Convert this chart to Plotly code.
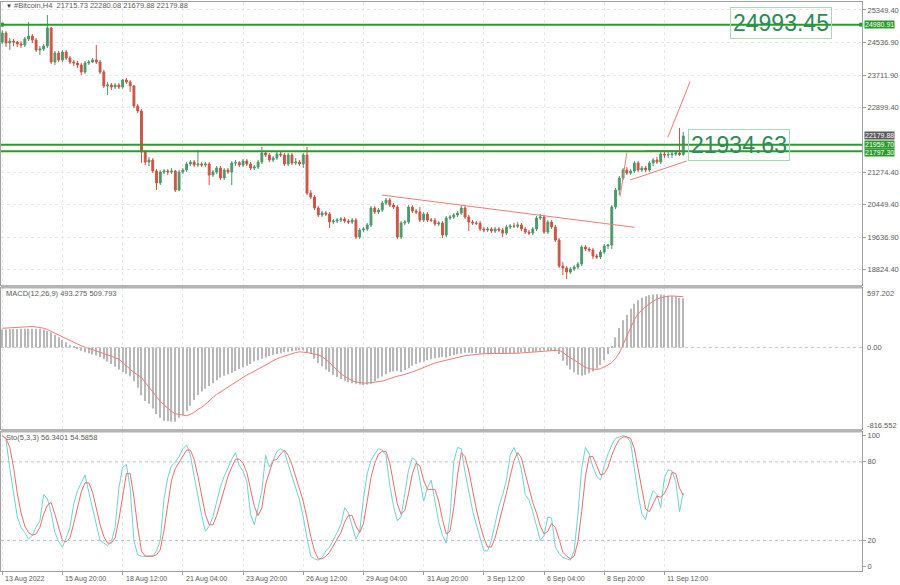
import plotly.graph_objects as go

# ---------------- data ----------------
closes = [24770,24519,24569,24544,24494,24469,24619,24695,24594,24343,24368,24443,24896,24041,24267,24092,24293,24142,24041,24016,
          23966,23790,24016,24041,24092,24041,23790,23438,23463,23412,23463,23412,23588,23538,23438,22935,22809,21778,21526,21576,
          21300,20998,21274,21300,21274,21300,20822,21274,21325,21476,21526,21451,21476,21451,21476,21199,21274,21375,21124,21325,
          21274,21501,21510,21451,21551,21476,21375,21400,21526,21752,21702,21576,21627,21727,21702,21476,21702,21501,21526,21476,
          21702,20746,20646,20369,20193,20243,20218,20017,20042,20067,20092,20042,20017,20067,19640,19816,19841,19942,20369,20268,
          20319,20495,20570,20445,20394,19640,19992,20017,20394,20294,20268,20067,20218,20067,20060,19967,19992,19690,20118,20143,
          20193,20243,20369,20143,20017,19992,19985,19841,19816,19841,19790,19841,19816,19740,19891,19916,19910,19942,19841,19765,
          19740,19841,20118,20143,19765,20017,19891,19564,18910,18860,18759,18835,18885,18961,19388,19338,19313,19162,19137,19262,
          19413,19438,20394,20822,21124,21325,21249,21300,21501,21325,21375,21325,21501,21576,21526,21727,21702,21710,21727,21752,
          21715.73,22179.88]
highs = [24846,24820,24644,24619,24569,24569,24670,25047,24745,24644,24443,24494,25223,24921,24318,24318,24343,24343,24192,24092,
         24066,24016,24066,24092,24142,24469,24092,23840,23538,23513,23513,23513,23614,23639,23588,23463,22985,22859,21828,21652,
         21627,21350,21325,21350,21350,21375,21325,21325,21375,21526,21576,21576,21828,21526,21526,21526,21325,21426,21426,21375,
         21375,21551,21576,21551,21602,21602,21526,21451,21576,21904,21803,21752,21677,21778,21778,21752,21752,21752,21627,21576,
         21752,21904,20822,20696,20419,20294,20294,20268,20092,20118,20143,20143,20092,20118,20118,19866,19891,19992,20419,20419,
         20369,20545,20621,20621,20495,20445,20042,20067,20445,20445,20344,20394,20268,20268,20118,20118,20042,20042,20168,20193,
         20243,20294,20445,20419,20193,20067,20042,20042,19891,19891,19891,19891,19891,19866,19942,19967,19992,20017,19992,19891,
         19816,19891,20168,20218,20193,20067,20067,19942,19614,19011,18910,18885,18935,19011,19438,19438,19388,19363,19212,19313,
         19463,19463,20445,20872,21174,21375,21400,21350,21551,21551,21426,21426,21551,21627,21652,21778,21778,21778,21803,21828,
         22381,22280.08]
lows = [24494,24418,24343,24443,24418,24393,24418,24569,24519,24293,24217,24318,24393,23991,23966,24041,24041,24092,23991,23941,
        23890,23714,23739,23966,24016,23991,23739,23387,23211,23337,23362,23362,23362,23488,23287,22884,22758,21501,21451,21426,
        21249,20822,20948,21224,21199,21224,20771,20797,21224,21274,21426,21400,21400,21400,21400,20948,21149,21224,21073,21073,
        21224,20948,21426,21400,21400,21426,21325,21325,21350,21476,21652,21526,21526,21576,21652,21426,21426,21451,21451,21426,
        21375,20696,20595,20319,20143,20143,20168,19866,19967,19992,20017,19992,19967,19967,19589,19589,19765,19790,19891,20218,
        20218,20268,20445,20394,20344,19589,19589,19942,19967,20243,20218,20017,20017,20017,20017,19916,19916,19614,19640,20067,
        20092,20143,20193,20092,19790,19942,19942,19790,19765,19765,19740,19740,19765,19640,19690,19841,19866,19866,19790,19715,
        19690,19690,19790,20067,19715,19715,19841,19514,18860,18684,18583,18709,18785,18835,18910,19287,19262,19086,19086,19086,
        19212,19338,19338,20344,20696,21073,21199,21199,21249,21274,21274,21274,21274,21426,21476,21476,21627,21627,21627,21677,
        21677,21679.88]
first_open = 24544
opens = [first_open] + closes[:-1]
bars = list(range(len(closes)))

date_tick_bars = [0, 16, 32, 48, 64, 80, 96, 112, 128, 144, 160, 176]
date_tick_labels = ["13 Aug 2022", "15 Aug 20:00", "18 Aug 12:00", "21 Aug 04:00", "23 Aug 20:00", "26 Aug 12:00",
                    "29 Aug 04:00", "31 Aug 20:00", "3 Sep 12:00", "6 Sep 04:00", "8 Sep 20:00", "11 Sep 12:00"]
price_ticks = [25349.40, 24536.90, 23711.90, 22899.40, 21274.40, 20449.40, 19636.90, 18824.40]
level_prices = [24980.91, 21959.70, 21797.30]
target_labels = ["24993.45", "21934.63"]
target_prices = [25022, 21954]
target_bars = [207, 195.7]

# trend lines: (bar0, price0, bar1, price1)
trend_lines = [(100.9, 20696, 168.0, 19884),
               (164.2, 20654, 166.0, 21760),
               (176.9, 22147, 182.8, 23546),
               (166.9, 21073, 181.9, 21551),
               (170.8, 21810, 181.5, 21810)]

macd_range = [-816.552, 597.202]
macd_main = [180,182,184,186,187,188,188,188,188,188,188,
             179,167,150,127,103,77,52,28,8,
             -14,-33,-47,-56,-70,-80,-94,-118,-141,-165,-193,-221,-244,-263,-287,
             -338,-404,-479,-536,-564,-611,-667,-705,-733,-738,-743,-743,
             -705,-677,-639,-583,-526,-475,-442,-414,-385,-357,-329,-301,-282,-268,
             -254,-235,-216,-197,-183,-165,-141,-127,-113,-99,-85,-75,-66,-56,-47,-42,-38,-33,-28,-28,
             -47,-66,-113,-155,-188,-221,-244,-273,-296,-315,-334,-348,-357,-362,-371,-376,-371,-362,
             -338,-310,-291,-268,-249,-240,-235,-244,-226,-207,-183,-165,-150,-141,-127,-118,-108,-99,-94,
             -99,-85,-75,-68,-61,-52,-52,-56,-58,-61,-66,-68,-68,-66,-66,-64,-61,-58,-55,-52,-47,-45,-43,-42,-39,-33,-26,-33,-33,-38,
             -66,-132,-179,-221,-249,-273,-282,-273,-259,-240,-212,-174,-127,-66,
             9,103,197,273,330,390,440,475,500,515,525,532,535,533,528,520,515,510,500,493.275]
macd_signal = [193,196,199,202,205,207,209,211,211,206,200,194,180,162,143,124,104,85,66,47,
               29,17,5,-8,-20,-32,-42,-57,-72,-87,-103,-115,-150,-185,-220,-250,-275,-300,-350,-400,
               -445,-495,-540,-575,-610,-640,-664,-672,-680,-683,-670,-650,-620,-600,-570,-530,-500,-470,-445,-418,
               -393,-368,-343,-318,-293,-275,-258,-237,-215,-193,-172,-150,-130,-112,-99,-85,-72,-60,-50,-43,
               -43,-50,-58,-66,-74,-90,-120,-150,-190,-230,-262,-290,-315,-333,-345,-353,-356,-356,-353,-350,
               -345,-338,-325,-310,-298,-287,-280,-270,-258,-245,-230,-215,-198,-180,-165,-155,-145,-135,-125,-115,
               -105,-96,-88,-82,-77,-72,-68,-64,-62,-61,-61,-62,-63,-63,-63,-62,-60,-57,-54,-51,
               -48,-46,-44,-42,-38,-34,-30,-27,-26,-50,-80,-105,-125,-150,-175,-200,-212,-218,-220,-212,
               -195,-175,-150,-110,-55,30,120,212,280,340,380,410,440,465,485,500,510,515,517,516,
               513,509.793]
sto_main = [100,97,75,55,38,30,26,21,24,30,35,55,52,41,26,19,15,22,30,48,
            58,64,70,57,44,32,20,18,16,19,30,60,76,78,60,20,9,8,8,8,
            8,12,20,52,68,77,80,84,90,93,85,69,53,39,27,31,38,49,61,69,
            76,82,87,77,73,65,40,32,45,58,85,76,81,88,90,88,78,68,60,51,
            38,22,8,6,5,7,12,15,20,26,32,45,41,31,21,27,52,71,81,86,
            90,89,85,62,46,35,38,56,74,83,81,66,50,60,66,50,34,24,18,38,
            80,91,90,72,56,43,32,22,12,12,20,33,46,55,66,85,91,84,74,55,
            51,42,30,20,24,38,37,15,10,7,6,5,12,40,75,91,86,76,69,66,
            77,86,93,98,99,100,99,95,75,55,40,36,50,58,55,45,68,74,73,65,
            42,56.3401]
sto_signal = [100,98,91,76,56,41,31,26,24,25,30,40,47,49,40,29,20,19,22,33,
              45,57,64,64,57,44,32,23,18,18,22,36,55,71,71,53,30,12,8,8,
              8,9,13,28,47,66,75,80,85,89,89,82,69,54,40,32,32,39,49,60,
              69,76,82,82,79,72,59,46,39,45,63,73,81,82,86,89,85,78,69,60,
              50,37,23,12,6,6,8,11,16,20,26,34,39,39,31,26,33,50,68,79,
              86,88,88,79,64,48,40,43,56,71,79,77,66,59,59,59,50,36,25,27,
              45,70,87,84,73,57,44,32,22,15,15,22,33,45,56,69,81,87,83,71,
              60,49,41,31,25,27,33,30,21,11,8,6,8,19,42,69,84,84,77,70,
              71,76,85,92,97,99,99,98,90,75,57,44,42,48,54,53,56,62,72,71,
              60,54.5858]

# ---------------- figure ----------------
GREEN_UP = "#4a9a6a"
RED_DN = "#cd5444"
LEVEL_GREEN = "#2b9c2b"
TREND_RED = "#f27a78"
GRID = "#e8e8e8"
AXIS = "#a0a0a0"
TXT = "#5a5a5a"
FONT = "Liberation Sans"

fig = go.Figure()
fig.add_trace(go.Candlestick(x=bars, open=opens, high=highs, low=lows, close=closes,
                             increasing=dict(line=dict(color=GREEN_UP, width=1), fillcolor=GREEN_UP),
                             decreasing=dict(line=dict(color=RED_DN, width=1), fillcolor=RED_DN),
                             whiskerwidth=0, xaxis="x", yaxis="y", showlegend=False))
for (b0, p0, b1, p1) in trend_lines:
    fig.add_trace(go.Scatter(x=[b0, b1], y=[p0, p1], mode="lines", line=dict(color=TREND_RED, width=1),
                             xaxis="x", yaxis="y", showlegend=False, hoverinfo="skip"))
fig.add_trace(go.Scatter(x=[-0.1, 228.3], y=[level_prices[0]] * 2, mode="markers",
                         marker=dict(symbol="square", size=4, color=LEVEL_GREEN),
                         xaxis="x", yaxis="y", showlegend=False, hoverinfo="skip", cliponaxis=False))

fig.add_trace(go.Bar(x=bars, y=macd_main, marker=dict(color="#b8b8b8", line=dict(width=0)), width=0.32,
                     xaxis="x2", yaxis="y2", showlegend=False))
fig.add_trace(go.Scatter(x=bars, y=macd_signal, mode="lines", line=dict(color=TREND_RED, width=1),
                         xaxis="x2", yaxis="y2", showlegend=False))
fig.add_trace(go.Scatter(x=bars, y=sto_main, mode="lines", line=dict(color="#6fd3d0", width=1),
                         xaxis="x3", yaxis="y3", showlegend=False))
fig.add_trace(go.Scatter(x=bars, y=sto_signal, mode="lines", line=dict(color="#f26b6b", width=1),
                         xaxis="x3", yaxis="y3", showlegend=False))

xr = [-0.33, 228.5]
xcommon = dict(range=xr, tickvals=date_tick_bars, showgrid=True, gridcolor=GRID, griddash="dot",
               showline=True, mirror=True, linecolor=AXIS, zeroline=False, showticklabels=False, fixedrange=True)
fig.update_layout(
    width=900, height=585, margin=dict(l=1, r=38, t=2, b=14, autoexpand=False),
    paper_bgcolor="white", plot_bgcolor="white",
    font=dict(family=FONT, size=7.5, color=TXT),
    xaxis=dict(domain=[0, 1], anchor="y", rangeslider=dict(visible=False), **xcommon),
    xaxis2=dict(domain=[0, 1], anchor="y2", **xcommon),
    xaxis3=dict(domain=[0, 1], anchor="y3", ticks="outside", ticklen=3, tickcolor=AXIS, **xcommon),
    yaxis=dict(domain=[0.5026, 1.0], range=[18432.75, 25550.2], side="right", tickvals=price_ticks,
               ticktext=[f"{v:.2f}" for v in price_ticks], ticks="outside", ticklen=3, tickcolor=AXIS,
               showgrid=True, gridcolor=GRID, griddash="dot", showline=True, mirror=True, linecolor=AXIS,
               zeroline=False, tickfont=dict(size=7.5, color=TXT), automargin=False),
    yaxis2=dict(domain=[0.2496, 0.4974], range=macd_range, side="right", showticklabels=False,
                showgrid=False, showline=True, mirror=True, linecolor=AXIS, zeroline=False, automargin=False),
    yaxis3=dict(domain=[0.0, 0.2443], range=[-3.3, 102.8], side="right", tickvals=[100, 80, 20, 0],
                ticktext=["100", "80", "20", "0"], ticks="outside", ticklen=3, tickcolor=AXIS,
                showgrid=False, showline=True, mirror=True, linecolor=AXIS, zeroline=False,
                tickfont=dict(size=7.5, color=TXT), automargin=False),
)

shapes = []
shapes.append(dict(type="line", xref="x2 domain", x0=0, x1=1, yref="y2", y0=0, y1=0,
                   line=dict(color="#c8c8c8", width=1, dash="dot")))
for lv in [80, 20]:
    shapes.append(dict(type="line", xref="x3 domain", x0=0, x1=1, yref="y3", y0=lv, y1=lv,
                       line=dict(color="#c0c0c0", width=1, dash="dot")))
for lp in level_prices:
    shapes.append(dict(type="line", xref="x domain", x0=0, x1=1, yref="y", y0=lp, y1=lp,
                       line=dict(color=LEVEL_GREEN, width=2)))
for (py0, py1) in [(285, 288.5), (429, 432.5)]:
    shapes.append(dict(type="rect", xref="paper", x0=0, x1=1, yref="paper",
                       y0=(571 - py1) / 569, y1=(571 - py0) / 569,
                       fillcolor="#b4b4b4", line=dict(width=0)))
fig.update_layout(shapes=shapes)

ann = []
ann.append(dict(xref="paper", yref="paper", x=0.004, y=0.993, xanchor="left", yanchor="middle", showarrow=False,
                text="▼", font=dict(size=6, color="#333")))
ann.append(dict(xref="paper", yref="paper", x=0.013, y=0.993, xanchor="left", yanchor="middle", showarrow=False,
                text="#Bitcoin,H4  21715.73 22280.08 21679.88 22179.88", font=dict(size=7.5, color=TXT)))
ann.append(dict(xref="paper", yref="paper", x=0.003, y=(571 - 293) / 569, xanchor="left", yanchor="middle", showarrow=False,
                text="MACD(12,26,9) 493.275 509.793", font=dict(size=7.5, color=TXT)))
ann.append(dict(xref="paper", yref="paper", x=0.003, y=(571 - 437) / 569, xanchor="left", yanchor="middle", showarrow=False,
                text="Sto(5,3,3) 56.3401 54.5858", font=dict(size=7.5, color=TXT)))
# MACD scale labels (MT4 draws them inset from the window edges)
for txt, py in [("597.202", 293), ("0.00", 347.7), ("-816.552", 425)]:
    ann.append(dict(xref="paper", yref="paper", x=1.0, y=(571 - py) / 569, xanchor="left", yanchor="middle",
                    showarrow=False, text=txt, font=dict(size=7.5, color=TXT), xshift=3))
for b, t in zip(date_tick_bars, date_tick_labels):
    ann.append(dict(xref="x3", yref="paper", x=b, y=-0.004, xanchor="left", yanchor="top", showarrow=False,
                    text=t, font=dict(size=7, color=TXT), xshift=1))
for t, p, b in zip(target_labels, target_prices, target_bars):
    ann.append(dict(xref="x", yref="y", x=b, y=p, xanchor="center", yanchor="middle", showarrow=False,
                    text=t, font=dict(size=23, color="#2e8b57", family=FONT), bordercolor="#a9d8b8",
                    borderwidth=1, borderpad=2, bgcolor="rgba(255,255,255,0)"))
tags = [(24980.91, "24980.91", "#2a9a2a", 0), (22179.88, "22179.88", "#5b5b5b", 1),
        (21959.70, "21959.70", "#2a9a2a", 0), (21797.30, "21797.30", "#2a9a2a", -1)]
for p, t, c, ys in tags:
    ann.append(dict(xref="paper", yref="y", x=1.0, y=p, xanchor="left", yanchor="middle", showarrow=False,
                    text=t, font=dict(size=7, color="white"), bgcolor=c, borderpad=0, xshift=2, yshift=ys))
fig.update_layout(annotations=ann)

fig.write_html("out.html", config={"displayModeBar": False},
               post_script="document.body.style.margin='0';document.body.style.padding='0';")
